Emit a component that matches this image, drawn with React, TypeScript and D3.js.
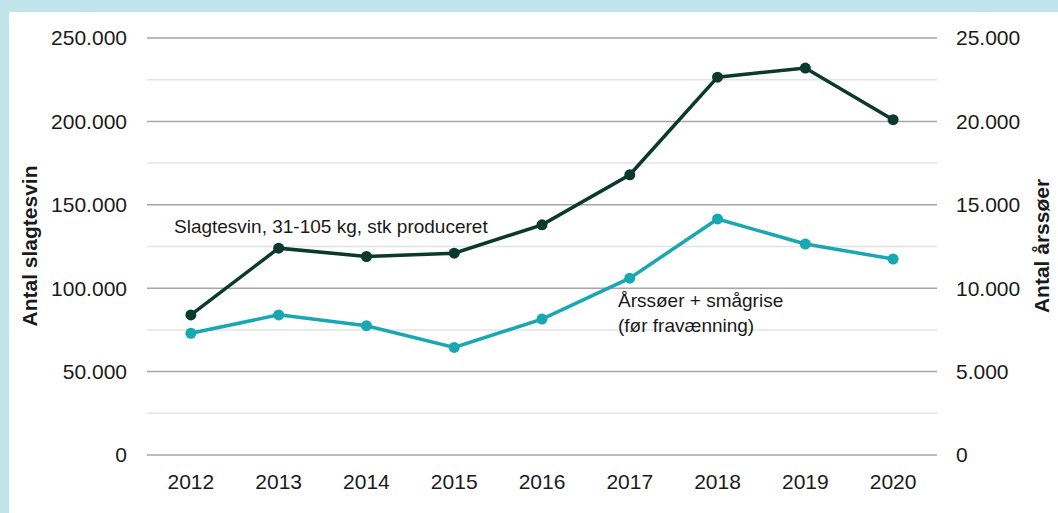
import React from "react";
import * as d3 from "d3";

const years = ["2012", "2013", "2014", "2015", "2016", "2017", "2018", "2019", "2020"];
// Slagtesvin, stk produceret (left axis)
const slagtesvin = [84000, 124000, 119000, 121000, 138000, 168000, 226500, 232000, 201000];
// Årssøer + smågrise (right axis)
const aarssoer = [7300, 8400, 7750, 6450, 8150, 10600, 14150, 12650, 11750];
const leftTicks = [0, 50000, 100000, 150000, 200000, 250000];
const rightTicks = [0, 5000, 10000, 15000, 20000, 25000];
const minorTicks = [25000, 75000, 125000, 175000, 225000];

const W = 1058;
const H = 513;
const FONT = "'Liberation Sans', Arial, sans-serif";

const fmt = (v: number) => d3.format(",")(v).replace(/,/g, ".");

export default function App() {
  const margin = { left: 147, right: 121, top: 38, bottom: 58 };
  const x = d3
    .scaleBand()
    .domain(years)
    .range([margin.left, W - margin.right]);
  const yL = d3.scaleLinear().domain([0, 250000]).range([H - margin.bottom, margin.top]);
  const yR = d3.scaleLinear().domain([0, 25000]).range([H - margin.bottom, margin.top]);
  const cx = (d: string) => (x(d) as number) + x.bandwidth() / 2;

  const lineL = d3
    .line<number>()
    .x((_, i) => cx(years[i]))
    .y(d => yL(d));
  const lineR = d3
    .line<number>()
    .x((_, i) => cx(years[i]))
    .y(d => yR(d));

  const dark = "#0b3a2c";
  const teal = "#19a8b2";

  return (
    <svg
      width={W}
      height={H}
      style={{ position: "absolute", left: 0, top: 0, display: "block" }}
      fontFamily={FONT}
    >
      <rect width={W} height={H} fill="#bfe5ea" />
      <rect x={9} y={12} width={W - 9} height={H - 12} fill="#ffffff" />

      {/* grid */}
      {minorTicks.map(t => (
        <line key={"m" + t} x1={margin.left} x2={W - margin.right} y1={yL(t)} y2={yL(t)} stroke="#e4e4e4" strokeWidth={1.5} />
      ))}
      {leftTicks.map(t => (
        <line key={"g" + t} x1={margin.left} x2={W - margin.right} y1={yL(t)} y2={yL(t)} stroke="#a6a6a6" strokeWidth={1.5} />
      ))}

      {/* left ticks */}
      {leftTicks.map(t => (
        <text key={"l" + t} x={127} y={yL(t)} dy="0.35em" textAnchor="end" fontSize={21} fill="#1a1a1a">
          {fmt(t)}
        </text>
      ))}
      {/* right ticks */}
      {rightTicks.map(t => (
        <text key={"r" + t} x={956} y={yR(t)} dy="0.35em" textAnchor="start" fontSize={21} fill="#1a1a1a">
          {fmt(t)}
        </text>
      ))}
      {/* x ticks */}
      {years.map(yv => (
        <text key={yv} x={cx(yv)} y={482} dy="0.35em" textAnchor="middle" fontSize={21} fill="#1a1a1a">
          {yv}
        </text>
      ))}

      {/* axis titles */}
      <text transform="translate(30,246) rotate(-90)" dy="0.35em" textAnchor="middle" fontSize={21} fontWeight="bold" fill="#1a1a1a">
        Antal slagtesvin
      </text>
      <text transform="translate(1042,246) rotate(-90)" dy="0.35em" textAnchor="middle" fontSize={21} fontWeight="bold" fill="#1a1a1a">
        Antal årssøer
      </text>

      {/* lines */}
      <path d={lineR(aarssoer) || ""} fill="none" stroke={teal} strokeWidth={3.5} />
      {aarssoer.map((v, i) => (
        <circle key={"t" + i} cx={cx(years[i])} cy={yR(v)} r={5.5} fill={teal} />
      ))}
      <path d={lineL(slagtesvin) || ""} fill="none" stroke={dark} strokeWidth={3.5} />
      {slagtesvin.map((v, i) => (
        <circle key={"d" + i} cx={cx(years[i])} cy={yL(v)} r={5.5} fill={dark} />
      ))}

      {/* annotations */}
      <text x={174} y={226} dy="0.35em" fontSize={19} fill="#1a1a1a">
        Slagtesvin, 31-105 kg, stk produceret
      </text>
      <text x={618} y={300} dy="0.35em" fontSize={19} fill="#1a1a1a">
        Årssøer + smågrise
      </text>
      <text x={618} y={325} dy="0.35em" fontSize={19} fill="#1a1a1a">
        (før fravænning)
      </text>
    </svg>
  );
}
